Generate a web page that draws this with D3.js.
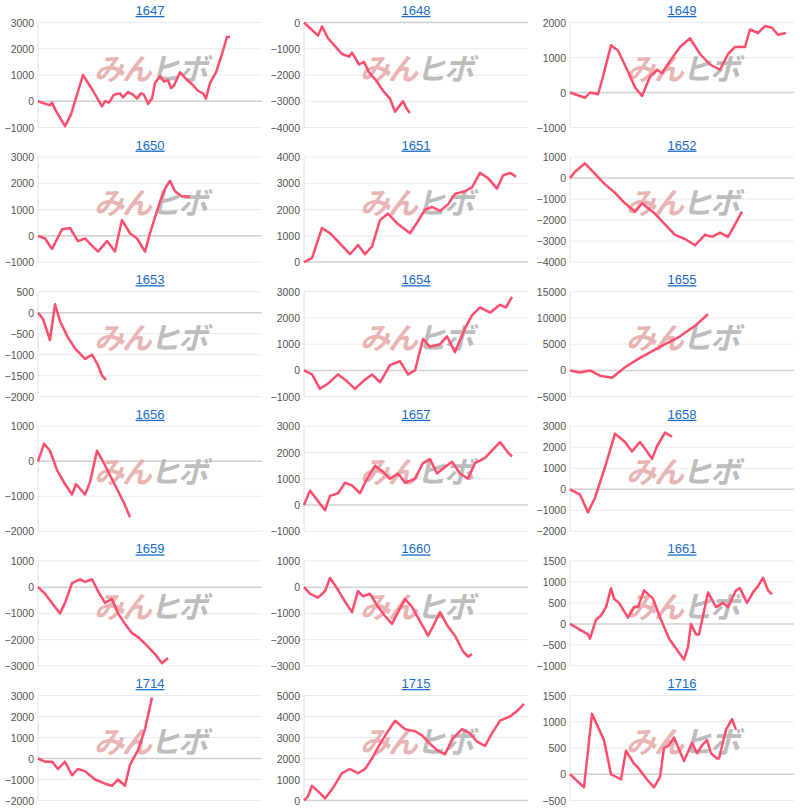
<!DOCTYPE html>
<html><head><meta charset="utf-8">
<script src="https://cdn.jsdelivr.net/npm/d3@7"></script>
<style>body{margin:0;background:#fff;font-family:"Liberation Sans",Arial,sans-serif}</style>
</head><body><svg id="c" width="800" height="810"></svg>
<script>
const titles=["1647","1648","1649","1650","1651","1652","1653","1654","1655","1656","1657","1658","1659","1660","1661","1714","1715","1716"];
const yDomains=[[-1000,3000],[-4000,0],[-1000,2000],[-1000,3000],[0,4000],[-4000,1000],[-2000,500],[-1000,3000],[-5000,15000],[-2000,1000],[-1000,3000],[-2000,3000],[-3000,1000],[-3000,1000],[-1000,1500],[-2000,3000],[0,5000],[-500,1500]];
const yStep=[1000,1000,1000,1000,1000,1000,500,1000,5000,1000,1000,1000,1000,1000,500,1000,1000,500];
const s1647=[[0,0],[6,-80],[12,-150],[14,-50],[17,-300],[27,-950],[33,-500],[45,1000],[55,400],[64,-200],[67,0],[71,-50],[76,250],[82,300],[85,150],[90,350],[95,250],[99,100],[103,300],[106,250],[110,-100],[114,100],[117,700],[122,950],[126,750],[130,800],[133,500],[136,600],[142,1100],[148,850],[154,650],[160,400],[165,300],[168,100],[172,700],[178,1100],[184,1800],[189,2450],[192,2450]];
const s1648=[[0,0],[14,-500],[18,-150],[24,-600],[31,-900],[38,-1200],[45,-1300],[48,-1150],[55,-1600],[60,-1500],[65,-1900],[72,-2200],[79,-2600],[86,-2900],[91,-3400],[97,-3100],[99,-3000],[103,-3300],[106,-3450]];
const s1649=[[0,0],[15,-150],[20,0],[28,-50],[33,450],[37,900],[41,1350],[48,1200],[58,600],[65,150],[72,-100],[80,450],[87,650],[92,550],[100,900],[110,1300],[120,1550],[130,1100],[140,800],[150,650],[158,1100],[165,1300],[175,1300],[180,1800],[188,1700],[195,1900],[202,1850],[208,1650],[216,1700]];
const s1650=[[0,0],[7,-100],[14,-500],[24,250],[32,300],[40,-200],[47,-100],[52,-300],[60,-600],[69,-200],[77,-600],[84,600],[92,100],[99,-100],[107,-600],[112,100],[122,1300],[127,1800],[132,2100],[137,1700],[144,1500],[152,1500]];
const s1651=[[0,0],[8,150],[18,1300],[26,1100],[36,700],[46,300],[54,650],[61,300],[68,600],[76,1600],[84,1850],[94,1450],[106,1100],[113,1500],[121,2000],[128,2100],[136,1950],[144,2200],[151,2600],[161,2700],[168,2850],[176,3400],[184,3200],[193,2800],[199,3300],[206,3400],[212,3250]];
const s1652=[[0,0],[5,300],[15,700],[25,200],[35,-300],[45,-700],[55,-1200],[65,-1600],[72,-1200],[85,-1700],[95,-2200],[105,-2700],[115,-2900],[125,-3200],[135,-2700],[142,-2800],[150,-2600],[158,-2800],[165,-2200],[172,-1600]];
const s1653=[[0,0],[5,-150],[12,-650],[17,200],[22,-200],[29,-550],[37,-850],[47,-1100],[54,-1000],[60,-1250],[64,-1500],[68,-1600]];
const s1654=[[0,0],[8,-150],[16,-700],[24,-500],[34,-150],[41,-350],[51,-700],[61,-350],[68,-150],[76,-450],[86,200],[96,350],[104,-150],[111,0],[119,1200],[126,900],[136,1000],[143,1300],[151,700],[161,1600],[168,2100],[176,2400],[186,2200],[196,2500],[202,2400],[208,2800]];
const s1655=[[0,0],[10,-400],[20,0],[30,-1000],[42,-1400],[55,600],[70,2400],[90,4500],[110,6500],[125,8500],[138,10700]];
const s1656=[[0,0],[6,500],[12,300],[19,-250],[27,-650],[34,-950],[38,-650],[47,-950],[52,-600],[59,300],[64,50],[72,-400],[80,-850],[87,-1250],[92,-1600]];
const s1657=[[0,0],[6,550],[11,300],[21,-200],[26,350],[34,450],[41,850],[48,750],[56,450],[61,850],[71,1500],[78,1300],[86,1000],[94,1200],[101,850],[111,1000],[119,1600],[126,1750],[133,1200],[141,1450],[148,1650],[156,1200],[164,1000],[171,1600],[181,1800],[191,2200],[196,2400],[204,2000],[208,1850]];
const s1658=[[0,0],[10,-250],[18,-1100],[25,-400],[35,1050],[45,2650],[55,2250],[62,1800],[70,2250],[77,1800],[82,1450],[87,2050],[95,2700],[102,2500]];
const s1659=[[0,0],[7,-250],[14,-600],[22,-1000],[27,-600],[34,150],[42,300],[47,200],[54,300],[60,-150],[67,-600],[74,-450],[80,-1000],[87,-1400],[94,-1750],[100,-1900],[107,-2150],[117,-2550],[124,-2900],[130,-2700]];
const s1660=[[0,0],[6,-250],[14,-400],[21,-150],[26,350],[34,-100],[41,-550],[48,-950],[54,-150],[59,-350],[66,-250],[74,-750],[81,-1100],[88,-1400],[94,-950],[101,-450],[108,-750],[116,-1300],[124,-1850],[129,-1500],[136,-950],[144,-1500],[151,-1850],[159,-2450],[164,-2650],[168,-2550]];
const s1661=[[0,0],[18,-250],[20,-350],[26,100],[31,200],[36,400],[41,850],[44,600],[49,500],[58,150],[64,400],[68,400],[74,800],[83,600],[91,100],[99,-350],[108,-650],[114,-850],[118,-550],[121,0],[126,-250],[129,-250],[138,750],[146,400],[153,500],[158,400],[161,550],[166,800],[170,850],[177,500],[183,750],[188,900],[193,1100],[198,800],[202,700]];
const s1714=[[0,0],[7,-150],[14,-150],[20,-500],[27,-150],[34,-800],[40,-500],[47,-600],[57,-1000],[67,-1200],[74,-1300],[80,-1000],[87,-1300],[92,-300],[100,400],[107,1400],[114,2900]];
const s1715=[[0,0],[4,200],[8,700],[16,350],[21,100],[29,600],[38,1300],[46,1500],[54,1300],[61,1500],[68,2000],[76,2700],[84,3300],[91,3800],[101,3400],[111,3300],[118,3100],[126,2700],[133,2400],[141,2200],[148,2900],[158,3400],[166,3200],[173,2800],[181,2600],[188,3200],[196,3800],[206,4000],[214,4300],[220,4600]];
const s1716=[[0,0],[14,-250],[22,1150],[34,650],[41,0],[51,-100],[56,450],[64,200],[67,150],[77,-100],[84,-250],[90,-50],[94,500],[99,550],[104,700],[114,250],[122,600],[127,400],[132,550],[137,650],[141,400],[147,300],[149,300],[156,850],[162,1050],[166,850]];
const series=[s1647,s1648,s1649,s1650,s1651,s1652,s1653,s1654,s1655,s1656,s1657,s1658,s1659,s1660,s1661,s1714,s1715,s1716];
const xDomain=[0,224];

const svg=d3.select("#c");
titles.forEach((t,i)=>{
  const col=i%3,row=Math.floor(i/3);
  const left=38+col*266, plotW=224;
  const titleY=10+row*134.6, top=titleY+12.5, h=105;
  const x=d3.scaleLinear().domain(xDomain).range([left,left+plotW]);
  const y=d3.scaleLinear().domain(yDomains[i]).range([top+h,top]);
  const ticks=d3.range(yDomains[i][0],yDomains[i][1]+1,yStep[i]);
  const g=svg.append("g");
  g.selectAll("line.grid").data(ticks).join("line")
    .attr("x1",left).attr("x2",left+plotW).attr("y1",d=>y(d)).attr("y2",d=>y(d))
    .attr("stroke",d=>d===0?"#d0d0d0":"#ebebeb").attr("stroke-width",d=>d===0?1.5:1);
  g.append("line").attr("x1",left).attr("x2",left).attr("y1",top).attr("y2",top+h).attr("stroke","#e0e0e0");
  g.selectAll("text.tk").data(ticks).join("text")
    .attr("x",left-4).attr("y",d=>y(d)+4).attr("text-anchor","end")
    .attr("font-size",10.5).attr("fill","#555").text(d=>d3.format("d")(d));
  const wm=g.append("text").attr("x",left+112).attr("y",top+57).attr("text-anchor","middle")
    .attr("font-size",30).attr("font-weight","bold").attr("font-style","italic")
    .attr("font-family","Noto Sans CJK JP").attr("letter-spacing",-2);
  wm.append("tspan").attr("fill","#e8b4b4").text("みん");
  wm.append("tspan").attr("fill","#bdbdbd").text("ヒボ");
  g.append("path").datum(series[i]).attr("fill","none").attr("stroke","#ff4d6d").attr("stroke-width",2.5)
    .attr("stroke-linejoin","round")
    .attr("d",d3.line().x(d=>x(d[0])).y(d=>y(d[1])));
  g.append("text").attr("x",left+112).attr("y",titleY+5).attr("text-anchor","middle")
    .attr("font-size",13).attr("fill","#1a6dcc").attr("text-decoration","underline").text(t);
});
</script></body></html>
